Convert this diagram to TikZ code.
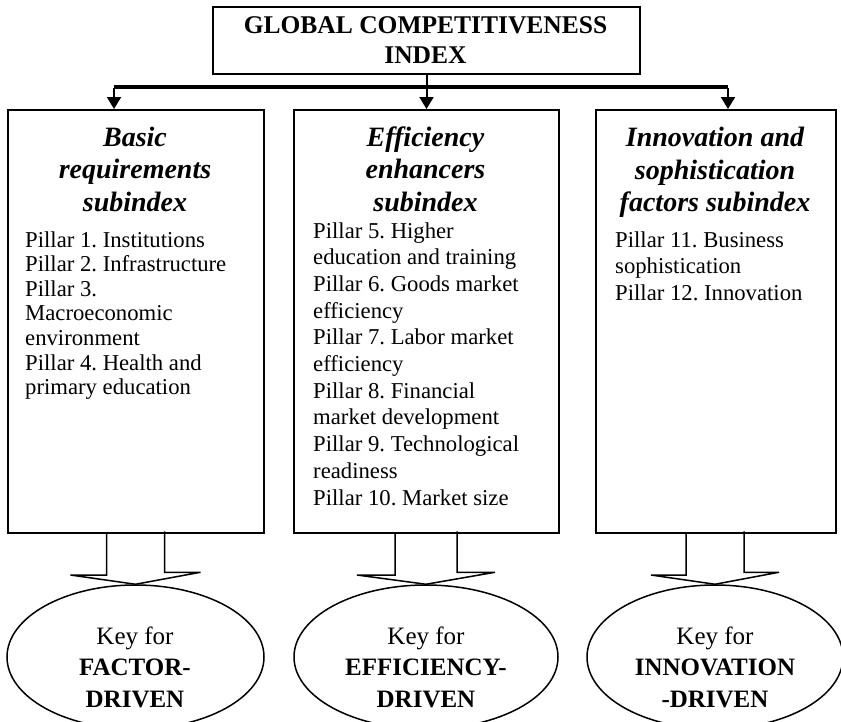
\documentclass[tikz,border=0pt]{standalone}
\usepackage{fontspec}
\setmainfont{Liberation Serif}
\usetikzlibrary{arrows.meta,shapes.geometric}
\newcommand\mylines[2]{\begin{tabular}[t]{@{}#1@{}}#2\end{tabular}}
\frenchspacing
\begin{document}
\begin{tikzpicture}[x=1pt,y=-1pt,
  boxst/.style={draw,line width=2pt,rectangle,inner sep=0pt,anchor=north west},
  ovalst/.style={draw,line width=1.5pt,ellipse,inner sep=0pt,minimum height=144pt},
  conn/.style={line width=2pt,-{Triangle[width=14pt,length=12pt]}},
  bus/.style={line width=3.5pt},
  hol/.style={line width=1.5pt,line join=miter},
  titletxt/.style={inner sep=0pt,anchor=base,font=\fontsize{25.5}{30}\selectfont\bfseries},
  headtxt/.style={inner sep=0pt,anchor=base,font=\fontsize{28}{32.5}\selectfont\bfseries\itshape},
  bodytxt/.style={inner sep=0pt,anchor=base west,font=\fontsize{22.7}{26.7}\selectfont},
  keytxt/.style={inner sep=0pt,anchor=base,font=\fontsize{25}{31.5}\selectfont}
]
\useasboundingbox (0,0) rectangle (841,721);
\renewcommand\arraystretch{1}

% boxes
\node[boxst,minimum width=427pt,minimum height=67pt] (gci) at (212,6) {};
\node[boxst,minimum width=256pt,minimum height=423pt] (basic) at (7,109) {};
\node[boxst,minimum width=265pt,minimum height=423pt] (eff) at (293,109) {};
\node[boxst,minimum width=240pt,minimum height=423pt] (inno) at (595,109) {};

% ellipses
\node[ovalst,minimum width=257pt] (fd) at (135.5,657) {};
\node[ovalst,minimum width=264pt] (ed) at (426,657) {};
\node[ovalst,minimum width=256pt] (id) at (715,657) {};

% title
\node[titletxt] (ttl) at (425.5,33) {\mylines{c}{GLOBAL COMPETITIVENESS\\INDEX}};

% headers
\node[headtxt] (hb) at (135,146) {\mylines{c}{Basic\\requirements\\subindex}};
\node[headtxt] (he) at (425.5,146) {\mylines{c}{Efficiency\\enhancers\\subindex}};
\node[headtxt] (hi) at (715,146.5) {\mylines{c}{Innovation and\\sophistication\\factors subindex}};

% bodies
\node[bodytxt,font=\fontsize{22.7}{24.6}\selectfont] (bb) at (25,247) {\mylines{l}{Pillar 1. Institutions\\Pillar 2. Infrastructure\\Pillar 3.\\Macroeconomic\\environment\\Pillar 4. Health and\\primary education}};
\node[bodytxt] (be) at (313,238) {\mylines{l}{Pillar 5. Higher\\education and training\\Pillar 6. Goods market\\efficiency\\Pillar 7. Labor market\\efficiency\\Pillar 8. Financial\\market development\\Pillar 9. Technological\\readiness\\Pillar 10. Market size}};
\node[bodytxt] (bi) at (615,247) {\mylines{l}{Pillar 11. Business\\sophistication\\Pillar 12. Innovation}};

% key texts
\node[keytxt] (kf) at (135,644) {\mylines{c}{Key for\\\textbf{FACTOR-}\\\textbf{DRIVEN}}};
\node[keytxt] (ke) at (426,644) {\mylines{c}{Key for\\\textbf{EFFICIENCY-}\\\textbf{DRIVEN}}};
\node[keytxt] (ki) at (715,644) {\mylines{c}{Key for\\\textbf{INNOVATION}\\\textbf{-DRIVEN}}};

% top connectors
\coordinate (busL) at (114,87);
\coordinate (busR) at (728,87);
\draw[bus] (busL) -- (busR);
\draw[conn] (gci.south) -- (eff.north);
\draw[conn] ([yshift=-1pt]busL) -- (busL |- basic.north);
\draw[conn] ([yshift=-1pt]busR) -- (busR |- inno.north);

% hollow arrows
\foreach \b/\e/\s/\w in {basic/fd/29/65, eff/ed/31/69, inno/id/29/64}{
  \draw[hol] (\e.north |- \b.south) ++(-\s,0) -- ++(0,41) -- ++(\s-\w,0) -- (\e.north)
     -- ++(\w,-12) -- ++(\s-\w,0) -- ++(0,-41);
}
\end{tikzpicture}
\end{document}
